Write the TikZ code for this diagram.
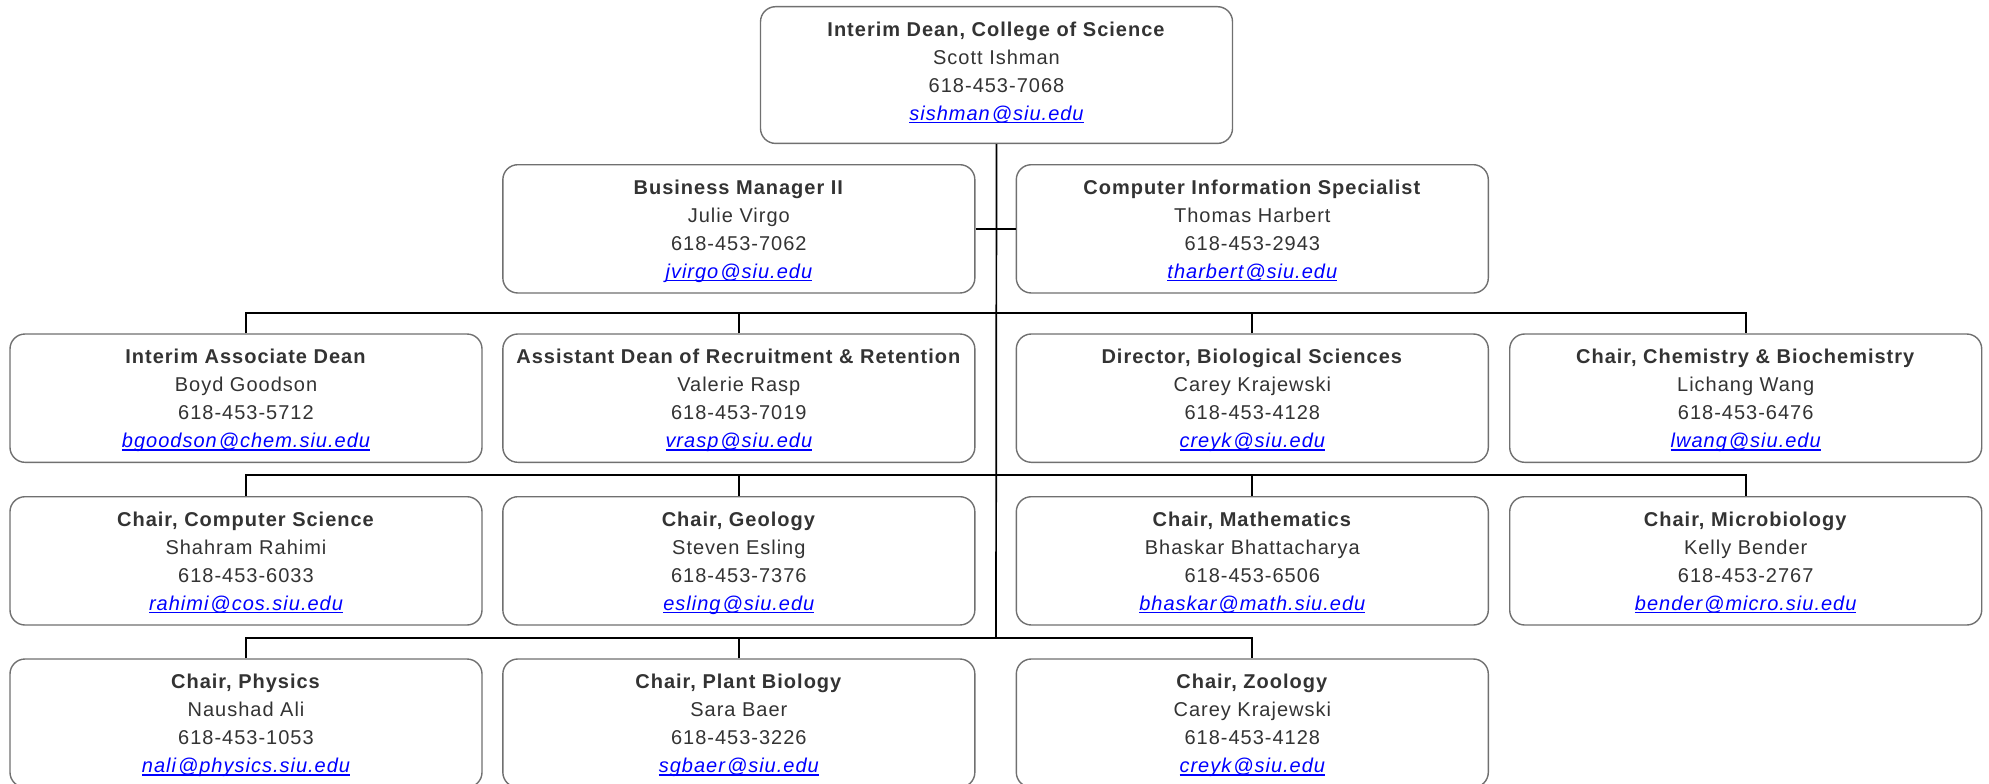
\documentclass[tikz,border=0pt]{standalone}
\usepackage{fontspec}
\setmainfont[LetterSpace=5.0]{Liberation Sans}
\definecolor{txt}{HTML}{333333}
\definecolor{bord}{HTML}{707070}
\definecolor{lnk}{HTML}{0000FF}
\newcommand{\at}{\kern2pt@}
\newcommand{\emailu}[1]{{\itshape\color{lnk}\setbox0\hbox{#1}\rlap{\rule[-3.4pt]{\wd0}{1.3pt}}\box0}}
\newcommand{\orgbox}[8]{%
  \node[orgrect, minimum height=#4pt, anchor=north] (#1) at (#2,#3) {};
  \node[orgtext, anchor=base] (#1-t) at (#2,#3+114) {\textbf{#5}\\#6\\#7\\\emailu{#8}};
}
\tikzset{
  orgrect/.style={draw=bord, line width=1.4pt, rounded corners=15pt, fill=white, minimum width=472pt, inner sep=0pt},
  orgtext/.style={align=center, text=txt, inner sep=0pt, font={\fontsize{20}{28}\selectfont}},
  conn/.style={draw=black, line width=1.7pt}
}
\begin{document}
\begin{tikzpicture}[x=1pt,y=-1pt]
\useasboundingbox (0,0) rectangle (1989,784);
% junction coordinates
\coordinate (b3) at (996,312.7);
\coordinate (b4) at (996,475);
\coordinate (b5) at (996,638.3);
% boxes
\orgbox{dean}{996.5}{6}{136.7}{Interim Dean, College of Science}{Scott Ishman}{618-453-7068}{sishman\at siu.edu}
\orgbox{bm}{738.85}{164}{128.3}{Business Manager II}{Julie Virgo}{618-453-7062}{jvirgo\at siu.edu}
\orgbox{cis}{1252.3}{164}{128.3}{Computer Information Specialist}{Thomas Harbert}{618-453-2943}{tharbert\at siu.edu}
\orgbox{iad}{246}{333.3}{128.3}{Interim Associate Dean}{Boyd Goodson}{618-453-5712}{bgoodson\at chem.siu.edu}
\orgbox{asd}{738.85}{333.3}{128.3}{Assistant Dean of Recruitment \& Retention}{Valerie Rasp}{618-453-7019}{vrasp\at siu.edu}
\orgbox{bio}{1252.3}{333.3}{128.3}{Director, Biological Sciences}{Carey Krajewski}{618-453-4128}{creyk\at siu.edu}
\orgbox{chem}{1745.7}{333.3}{128.3}{Chair, Chemistry \& Biochemistry}{Lichang Wang}{618-453-6476}{lwang\at siu.edu}
\orgbox{cs}{246}{496}{128.3}{Chair, Computer Science}{Shahram Rahimi}{618-453-6033}{rahimi\at cos.siu.edu}
\orgbox{geo}{738.85}{496}{128.3}{Chair, Geology}{Steven Esling}{618-453-7376}{esling\at siu.edu}
\orgbox{math}{1252.3}{496}{128.3}{Chair, Mathematics}{Bhaskar Bhattacharya}{618-453-6506}{bhaskar\at math.siu.edu}
\orgbox{micro}{1745.7}{496}{128.3}{Chair, Microbiology}{Kelly Bender}{618-453-2767}{bender\at micro.siu.edu}
\orgbox{phys}{246}{658.3}{128.3}{Chair, Physics}{Naushad Ali}{618-453-1053}{nali\at physics.siu.edu}
\orgbox{plant}{738.85}{658.3}{128.3}{Chair, Plant Biology}{Sara Baer}{618-453-3226}{sgbaer\at siu.edu}
\orgbox{zoo}{1252.3}{658.3}{128.3}{Chair, Zoology}{Carey Krajewski}{618-453-4128}{creyk\at siu.edu}
% connectors
\draw[conn] (dean.south) -- (b5);
\draw[conn] (bm.east) -- (cis.west);
\draw[conn] (iad.north) |- (b3) -| (chem.north);
\draw[conn] (asd.north) -- (asd.north |- b3);
\draw[conn] (bio.north) -- (bio.north |- b3);
\draw[conn] (cs.north) |- (b4) -| (micro.north);
\draw[conn] (geo.north) -- (geo.north |- b4);
\draw[conn] (math.north) -- (math.north |- b4);
\draw[conn] (phys.north) |- (b5) -| (zoo.north);
\draw[conn] (plant.north) -- (plant.north |- b5);
\end{tikzpicture}
\end{document}
